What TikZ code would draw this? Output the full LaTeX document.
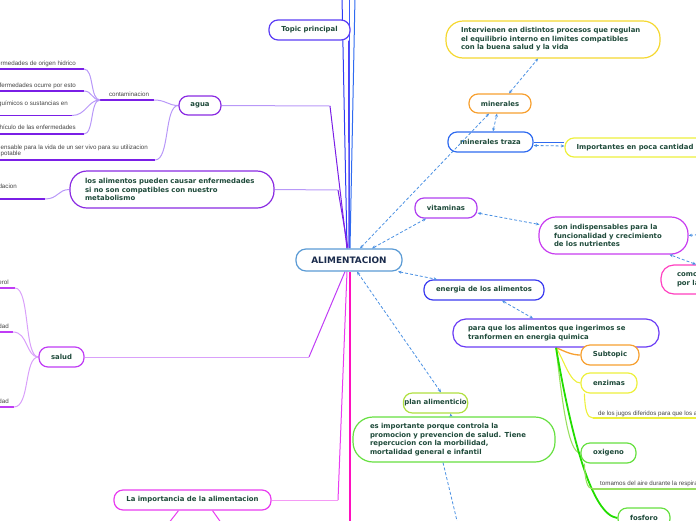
\documentclass[tikz,border=0pt]{standalone}
\usepackage{fontspec}
\setmainfont{DejaVu Sans}
\newfontfamily\leaffont{Liberation Sans}
\usetikzlibrary{arrows.meta,calc}
\pgfdeclarelayer{bg}
\pgfsetlayers{bg,main}
\definecolor{txt}{HTML}{1E4A3A}
\definecolor{navy}{HTML}{1A2B4C}
\definecolor{leaftxt}{HTML}{444444}
\definecolor{relc}{HTML}{4A90E2}
\definecolor{cTopic}{HTML}{5B3DF5}
\definecolor{cAlim}{HTML}{5B9BD5}
\definecolor{cViolet}{HTML}{8A2BE2}
\definecolor{cVioletD}{HTML}{7A1FE6}
\definecolor{cVioletL}{HTML}{B898F8}
\definecolor{cSalud}{HTML}{C03CF5}
\definecolor{cSaludL}{HTML}{D9A0FA}
\definecolor{cMag}{HTML}{E83CF0}
\definecolor{cMagL}{HTML}{F59AF5}
\definecolor{cPink}{HTML}{FF10C0}
\definecolor{cOrange}{HTML}{F7A030}
\definecolor{cYellow}{HTML}{F5D830}
\definecolor{cYellow2}{HTML}{EDF03C}
\definecolor{cBlue}{HTML}{2F6BF0}
\definecolor{cBlueT}{HTML}{2D3CF5}
\definecolor{cBlueU}{HTML}{3A5CFF}
\definecolor{cPurple}{HTML}{B040F0}
\definecolor{cPurple2}{HTML}{C83CF0}
\definecolor{cEnergy}{HTML}{3B3BF0}
\definecolor{cPara}{HTML}{6A3CF5}
\definecolor{cGreen}{HTML}{66E040}
\definecolor{cGreenL}{HTML}{99E060}
\definecolor{cGreenB}{HTML}{22DD00}
\definecolor{cLime}{HTML}{B0E040}
\definecolor{cComo}{HTML}{FF40C0}
\begin{document}
\begin{tikzpicture}[x=1pt,y=-1pt,
  box/.style={draw=#1, line width=1.2pt, fill=white, text=txt, font=\bfseries\fontsize{6.9}{8.6}\selectfont, inner sep=1pt, rounded corners=9pt},
  mbox/.style={box=#1, align=left, inner xsep=15pt},
  leaf/.style={text=leaftxt, font=\leaffont\fontsize{6.2}{6.4}\selectfont, inner sep=0pt},
  rel/.style={draw=relc, line width=0.8pt, dash pattern=on 3pt off 2pt, {Stealth[length=3.5pt,width=3pt]}-{Stealth[length=3.5pt,width=3pt]}},
  link/.style={line width=1pt},
  uline/.style={line width=1.4pt},
]
\useasboundingbox (0,0) rectangle (696,520);

% ---------- nodes ----------
\node[box=cTopic, minimum width=81pt, minimum height=20pt] (topic) at (309.5,30) {Topic principal};
\node[box=cAlim, minimum width=106pt, minimum height=22pt, rounded corners=10pt, text=navy, font=\bfseries\fontsize{8.9}{10}\selectfont] (alim) at (349,260) {ALIMENTACION};
\node[box=cViolet, minimum width=42pt, minimum height=19pt] (agua) at (200,105.5) {agua};
\node[mbox=cViolet, text width=174pt, minimum height=37pt, rounded corners=17pt] (losalim) at (172,189.5) {los alimentos pueden causar enfermedades\\si no son compatibles con nuestro\\metabolismo};
\node[box=cSalud, minimum width=45pt, minimum height=20pt] (salud) at (61.5,357) {salud};
\node[box=cMag, minimum width=157pt, minimum height=20pt] (laimp) at (192.5,500) {La importancia de la alimentacion};
\node[box=cOrange, minimum width=62pt, minimum height=19pt] (minerales) at (500,103.5) {minerales};
\node[mbox=cYellow, text width=184pt, minimum height=37pt, rounded corners=17pt] (interv) at (553,39.5) {Intervienen en distintos procesos que regulan\\el equilibrio interno en limites compatibles\\con la buena salud y la vida};
\node[box=cBlue, minimum width=85pt, minimum height=20pt] (mintraza) at (490.5,142) {minerales traza};
\node[box=cYellow2, minimum width=140pt, minimum height=19pt] (import) at (635,147.5) {Importantes en poca cantidad};
\node[box=cPurple, minimum width=62pt, minimum height=20pt] (vitaminas) at (446,208) {vitaminas};
\node[mbox=cPurple2, text width=119pt, minimum height=37pt, rounded corners=17pt] (sonind) at (613.5,235.5) {son indispensables para la\\funcionalidad y crecimiento\\de los nutrientes};
\node[mbox=cComo, text width=46pt, inner xsep=16pt, minimum height=29pt, rounded corners=13pt] (como) at (700,279.5) {como\\por la};
\node[box=cEnergy, minimum width=120pt, minimum height=20pt] (energia) at (484,290) {energia de los alimentos};
\node[mbox=cPara, text width=176pt, minimum height=28pt, rounded corners=13pt] (paraque) at (556,333) {para que los alimentos que ingerimos se\\tranformen en energia quimica};
\node[box=cOrange, minimum width=58pt, minimum height=20pt] (subtopic) at (610,355) {Subtopic};
\node[box=cYellow2, minimum width=56pt, minimum height=20pt] (enzimas) at (609,383) {enzimas};
\node[box=cGreen, minimum width=55pt, minimum height=20pt] (oxigeno) at (608.5,453) {oxigeno};
\node[box=cGreen, minimum width=52pt, minimum height=20pt] (fosforo) at (644,518) {fosforo};
\node[box=cLime, minimum width=59pt, minimum height=20pt] (plan) at (435.5,403) {plan alimenticio};
\node[mbox=cGreen, text width=168pt, inner xsep=17pt, minimum height=45pt, rounded corners=20pt] (esimp) at (454,439.5) {es importante porque controla la\\promocion y prevencion de salud. Tiene\\repercucion con la morbilidad,\\mortalidad general e infantil};

% ---------- leaf texts ----------
\node[leaf, anchor=base] (tcont) at (129,96) {contaminacion};
\node[leaf, anchor=base east] (t1) at (76,65.5) {enfermedades de origen hidrico};
\node[leaf, anchor=base east] (t2) at (76,87.5) {enfermedades ocurre por esto};
\node[leaf, anchor=base east] (t3) at (68,105.5) {químicos o sustancias en};
\node[leaf, anchor=base east] (t4) at (76,129.5) {vehículo de las enfermedades};
\node[leaf, anchor=north west, align=left] (t5) at (0.5,144.5) {ensable para la vida de un ser vivo para su utilizacion\\potable};
\node[leaf, anchor=base east] (t6) at (17,188.5) {degradacion};
\node[leaf, anchor=base east] (s1) at (9,284) {colesterol};
\node[leaf, anchor=base east] (s2) at (9,328) {enfermedad};
\node[leaf, anchor=base east] (s3) at (9,403) {enfermedad};
\node[leaf, anchor=base west] (te) at (598,415) {de los jugos diferidos para que los alimentos};
\node[leaf, anchor=base west] (to) at (600,485.5) {tomamos del aire durante la respiracion};

% ---------- coordinates ----------
\coordinate (cs) at (100,100); \coordinate (ce) at (154,100);
\coordinate (l1s) at (-5,69);  \coordinate (l1e) at (84,69);
\coordinate (l2s) at (-5,91);  \coordinate (l2e) at (84,91);
\coordinate (l3s) at (-5,115.5); \coordinate (l3e) at (72,115.5);
\coordinate (l4s) at (-5,134); \coordinate (l4e) at (84,134);
\coordinate (l5s) at (-5,160); \coordinate (l5e) at (155,160);
\coordinate (l6s) at (-5,199); \coordinate (l6e) at (45,199);
\coordinate (m1s) at (-5,288); \coordinate (m1e) at (15,288);
\coordinate (m2s) at (-5,332); \coordinate (m2e) at (13,332);
\coordinate (m3s) at (-5,407); \coordinate (m3e) at (14,407);
\coordinate (ens) at (593,418); \coordinate (ene) at (705,418);
\coordinate (oxs) at (593,489); \coordinate (oxe) at (705,489);
\coordinate (up1) at (342,-3); \coordinate (up2) at (349,-3); \coordinate (up3) at (355,-3);
\coordinate (aguaK) at (330,106); \coordinate (losK) at (338,190);
\coordinate (saludK) at (309,357); \coordinate (laimpK) at (338,500);
\coordinate (pinkEnd) at (350,525);
\coordinate (li1) at (168,524); \coordinate (li2) at (222,524);
\coordinate (offR) at (705,234); \coordinate (esEnd) at (458,525);

\begin{pgfonlayer}{bg}
% central links upward
\draw[cBlueT, link] ($(alim.north)+(-2,0)$) -- (up1);
\draw[cBlueU, link] ($(alim.north)+(0,0)$) -- (up2);
\draw[cBlue, link] ($(alim.north)+(1,0)$) -- (up3);
\draw[cTopic, link] ($(alim.north)+(0,0)$) -- ($(topic.south)+(39,0)$);
% agua
\draw[cVioletL, link] (agua.east) -- (aguaK);
\draw[cVioletD, link] (aguaK) -- ($(alim.north)+(-2,0)$);
% los alimentos
\draw[cVioletL, link] (losalim.east) -- (losK);
\draw[cVioletD, link] (losK) -- ($(alim.north)+(-1,0)$);
% salud
\draw[cSaludL, link] (salud.east) -- (saludK);
\draw[cSalud, link] (saludK) -- ($(alim.south)+(-4,0)$);
% la importancia
\draw[cMagL, link] (laimp.east) -- (laimpK);
\draw[cMag, link] (laimpK) -- ($(alim.south)+(-2,0)$);
\draw[cMag, link] ($(laimp.south)+(-14,0)$) -- (li1);
\draw[cMag, link] ($(laimp.south)+(20,0)$) -- (li2);
% thick pink
\draw[cPink, line width=2.6pt] ($(alim.south)+(1,0)$) -- (pinkEnd);

% agua branch leaves
\draw[cVioletD, uline] (cs) -- (ce);
\draw[cVioletL, link] (ce) .. controls (166,100) and (168,105.5) .. (agua.west);
\draw[cVioletD, uline] (l1s) -- (l1e);
\draw[cVioletD, uline] (l2s) -- (l2e);
\draw[cVioletD, uline] (l3s) -- (l3e);
\draw[cVioletD, uline] (l4s) -- (l4e);
\draw[cVioletD, uline] (l5s) -- (l5e);
\draw[cVioletD, uline] (l6s) -- (l6e);
\draw[cVioletL, link] (cs) .. controls (90,100) and (94,69) .. (l1e);
\draw[cVioletL, link] (cs) .. controls (92,100) and (92,91) .. (l2e);
\draw[cVioletL, link] (cs) .. controls (88,100) and (86,115.5) .. (l3e);
\draw[cVioletL, link] (cs) .. controls (90,100) and (94,134) .. (l4e);
\draw[cVioletL, link] (l5e) .. controls (170,160) and (164,105.5) .. (agua.west);
\draw[cVioletL, link] (l6e) .. controls (58,199) and (58,189.5) .. (losalim.west);
% salud leaves
\draw[cSalud, uline] (m1s) -- (m1e);
\draw[cSalud, uline] (m2s) -- (m2e);
\draw[cSalud, uline] (m3s) -- (m3e);
\draw[cSaludL, link] (m1e) .. controls (30,288) and (24,357) .. (salud.west);
\draw[cSaludL, link] (m2e) .. controls (28,332) and (26,357) .. (salud.west);
\draw[cSaludL, link] (m3e) .. controls (30,407) and (24,357) .. (salud.west);

% para que branches
\draw[cOrange, line width=1.3pt] (paraque.south) .. controls (566,352) and (572,355) .. (subtopic.west);
\draw[cYellow2, line width=1.1pt] (paraque.south) .. controls (564,360) and (570,383) .. (enzimas.west);
\draw[cGreenL, line width=1.1pt] (paraque.south) .. controls (562,400) and (568,453) .. (oxigeno.west);
\draw[cGreenB, line width=1.8pt] (paraque.south) .. controls (572,440) and (592,515) .. (fosforo.west);
\draw[cYellow2, line width=1.1pt] ($(enzimas.south west)+(4,0)$) .. controls (585,410) and (587,418) .. (ens);
\draw[cYellow2, uline] (ens) -- (ene);
\draw[cGreenL, line width=1.1pt] ($(oxigeno.south west)+(4,0)$) .. controls (585,480) and (587,489) .. (oxs);
\draw[cGreenL, uline] (oxs) -- (oxe);
% minerales traza to importantes (solid)
\draw[cBlue, link] ($(mintraza.east)+(0,0)$) -- ($(import.west)+(0,-5.5)$);
\end{pgfonlayer}

% ---------- relations (dashed) ----------
\draw[rel] ($(alim.north)+(11,0)$) -- ($(minerales.south)+(-11,0)$);
\draw[rel] ($(mintraza.north)+(2.5,0)$) -- ($(minerales.south)+(-3,0)$);
\draw[rel] ($(minerales.north)+(9,0)$) -- ($(interv.south)+(-15,0)$);
\draw[rel] ($(mintraza.east)+(0,3.5)$) -- ($(import.west)+(0,-1.5)$);
\draw[rel] ($(alim.north)+(23,0)$) -- ($(vitaminas.south)+(-20,0)$);
\draw[rel] ($(vitaminas.east)+(0,5)$) -- ($(sonind.west)+(1,-11)$);
\draw[rel] (offR) -- (sonind.east);
\draw[rel] ($(como.north)+(-4,0)$) -- ($(sonind.south)+(56,0)$);
\draw[rel] ($(alim.south)+(49,0)$) -- ($(energia.north)+(-47,0)$);
\draw[rel] ($(energia.south)+(18,0)$) -- ($(paraque.north)+(-23,0)$);
\draw[rel] ($(alim.south)+(8,0)$) -- ($(plan.north)+(5.5,0)$);
\draw[draw=relc, line width=0.8pt, {Stealth[length=3pt,width=3pt]}-] ($(plan.south)+(15,0)$) -- ($(esimp.north)+(-3,0)$);
\draw[draw=relc, line width=0.8pt, dash pattern=on 3pt off 2pt] ($(esimp.south)+(-11,0)$) -- (esEnd);
\end{tikzpicture}
\end{document}
